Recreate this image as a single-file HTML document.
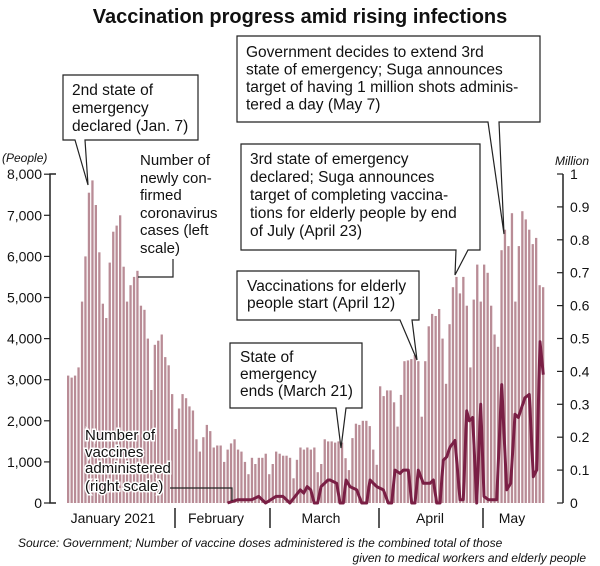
<!DOCTYPE html>
<html><head><meta charset="utf-8"><style>
body{margin:0;background:#fff;width:600px;height:566px;overflow:hidden;font-family:"Liberation Sans",Arial,sans-serif}
svg{display:block}
</style></head><body>
<svg id="s" width="600" height="566" xmlns="http://www.w3.org/2000/svg" font-family="Liberation Sans, Arial, sans-serif">
<text x="300" y="23" text-anchor="middle" font-size="20" font-weight="bold" fill="#111">Vaccination progress amid rising infections</text>
<g id="bars"></g>
<polyline id="vl" fill="none" stroke="#7a1f45" stroke-width="3" stroke-linejoin="round"/>
<g stroke="#222" stroke-width="1.5" fill="none">
<polyline points="56,174 50,174 50,503 56,503"/>
<line x1="563" y1="174" x2="563" y2="503"/>
</g>
<g id="ticks" stroke="#222" stroke-width="1.2"></g>
<g font-size="14" fill="#111" id="lab"></g>
<text x="2" y="162" font-size="12" font-style="italic" fill="#111">(People)</text>
<text x="555" y="165" font-size="12" font-style="italic" fill="#111">Million</text>
<g stroke="#222" stroke-width="1.5">
<line x1="175" y1="508" x2="175" y2="528"/><line x1="270" y1="508" x2="270" y2="528"/>
<line x1="379" y1="508" x2="379" y2="528"/><line x1="483" y1="508" x2="483" y2="528"/>
</g>
<g font-size="14" fill="#111" text-anchor="middle">
<text x="113" y="523">January 2021</text><text x="216" y="523">February</text>
<text x="321" y="523">March</text><text x="430" y="523">April</text><text x="512" y="523">May</text>
</g>
<g font-size="12" font-style="italic" fill="#111">
<text x="18" y="547">Source: Government; Number of vaccine doses administered is the combined total of those</text>
<text x="586" y="562" text-anchor="end">given to medical workers and elderly people</text>
</g>
<g fill="#fff" stroke="#222" stroke-width="1.2">
<path d="M63,75 H198 V140 H85 L88,185 L75,140 H63 Z"/>
<path d="M237,36 H540 V122 H499 L504,234 L488,122 H237 Z"/>
<path d="M241,144 H480 V250 H468 L455,275 L456,250 H241 Z"/>
<path d="M237,271 H419 V320 H412 L417,360 L400,320 H237 Z"/>
<path d="M230,343 H362 V408 H346 L341,448 L336,408 H230 Z"/>
</g>
<g fill="none" stroke="#222" stroke-width="1.2">
<polyline points="138,277 173,277 173,259"/>
<polyline points="170,488 232,488 232,501"/>
</g>
<g font-size="15.5" fill="#111">
<text x="72" y="95">2nd state of</text><text x="72" y="113">emergency</text><text x="72" y="131">declared (Jan. 7)</text>
<text x="246" y="57">Government decides to extend 3rd</text><text x="246" y="74.5">state of emergency; Suga announces</text>
<text x="246" y="92">target of having 1 million shots adminis-</text><text x="246" y="109.5">tered a day (May 7)</text>
<text x="250" y="164">3rd state of emergency</text><text x="250" y="182">declared; Suga announces</text>
<text x="250" y="200">target of completing vaccina-</text><text x="250" y="218">tions for elderly people by end</text>
<text x="250" y="236">of July (April 23)</text>
<text x="247" y="291">Vaccinations for elderly</text><text x="247" y="308">people start (April 12)</text>
<text x="240" y="362">State of</text><text x="240" y="379">emergency</text><text x="240" y="396">ends (March 21)</text>
</g>
<g font-size="15" fill="#111" stroke="#fff" stroke-width="3" paint-order="stroke">
<text x="140" y="165">Number of</text><text x="140" y="183">newly con-</text><text x="140" y="200">firmed</text>
<text x="140" y="218">coronavirus</text><text x="140" y="235">cases (left</text><text x="140" y="253">scale)</text>
<text x="85" y="440">Number of</text><text x="85" y="457">vaccines</text><text x="85" y="473">administered</text><text x="85" y="491">(right scale)</text>
</g>
</svg>
<script>
var c=[3.1,3.05,3.1,3.3,4.9,6.0,7.55,7.85,7.25,6.1,4.85,4.5,5.85,6.6,6.75,7.0,5.75,4.9,5.3,5.5,5.65,4.8,4.7,4.0,2.75,3.85,3.95,4.1,3.55,3.35,2.65,
1.8,2.3,2.65,2.55,2.35,2.25,1.55,1.25,1.6,1.9,1.75,1.35,1.4,1.4,1.0,1.3,1.45,1.55,1.3,1.25,1.0,0.7,1.1,0.95,1.1,1.1,1.2,0.7,
0.95,1.25,1.2,1.15,1.15,1.1,0.6,1.05,1.35,1.3,1.35,1.3,1.35,0.75,0.95,1.55,1.5,1.5,1.47,1.5,1.47,1.09,0.8,1.58,1.93,1.9,2.0,2.0,1.87,1.3,0.93,
2.84,2.6,2.74,2.74,2.45,1.86,2.63,3.45,3.47,3.5,3.6,3.45,2.1,3.45,4.3,4.6,4.55,4.72,4.0,2.9,4.35,5.25,5.5,5.1,5.5,4.8,3.3,4.95,5.8,4.9,
5.8,5.6,4.8,4.1,3.8,6.15,6.65,6.25,7.05,4.9,6.25,7.1,6.9,6.65,6.3,6.45,5.3,5.25];
var x0=67,st=3.467,y0=503,k=41.1,b="";
for(var i=0;i<c.length;i++){var h=c[i]*k;b+='<rect x="'+(x0+i*st).toFixed(1)+'" y="'+(y0-h).toFixed(1)+'" width="2.3" height="'+h.toFixed(1)+'" fill="#b98c96"/>';}
document.getElementById('bars').innerHTML=b;
var early=[[47,0],[50,0.01],[54,0.01],[56,0.02],[58,0],[61,0.02],[63,0.02],[65,0],[68,0.04],[69,0.03],[70,0.05],[71,0.04],[72,0],[73,0],[74,0.05],[76,0.07]];
var P=early.map(function(p){return [x0+1+(p[0]-1)*st,p[1]]});
var late=[[0,0.07],[20,0.06],[30,0],[40,0],[48,0.07],[60,0.05],[80,0.04],[95,0],[110,0],[120,0.07],[140,0.05],[160,0.04],[175,0],[185,0],[195,0.1],[210,0.09],[220,0.1],[235,0.1],[245,0],[255,0],[265,0.1],[280,0.06],[300,0.06],[310,0.07],[320,0],[330,0],[340,0.13],[350,0.14],[360,0.17],[375,0.19],[390,0.01],[400,0.01],[410,0.28],[418,0.25],[428,0.26],[440,0],[452,0.3],[462,0.02],[475,0.01],[500,0.01],[515,0.36],[530,0.04],[542,0.06],[555,0.27],[565,0.26],[585,0.32],[598,0.33],[610,0.08],[620,0.1],[630,0.49],[640,0.39]];
late.forEach(function(p){P.push([330+p[0]/3,p[1]])});
document.getElementById('vl').setAttribute('points',P.map(function(p){return p[0].toFixed(1)+','+(y0-p[1]*329).toFixed(1)}).join(' '));
var t="",l="";
for(var j=0;j<=8;j++){var y=y0-j*k;t+='<line x1="44" y1="'+y+'" x2="50" y2="'+y+'"/>';l+='<text x="42" y="'+(y+5)+'" text-anchor="end">'+(j==0?'0':j+',000')+'</text>';}
for(var j=0;j<=10;j++){var y=y0-j*32.9;t+='<line x1="557" y1="'+y+'" x2="563" y2="'+y+'"/>';l+='<text x="570" y="'+(y+5)+'">'+(j==0?'0':j==10?'1':'0.'+j)+'</text>';}
document.getElementById('ticks').innerHTML=t;document.getElementById('lab').innerHTML=l;
</script>
</body></html>
